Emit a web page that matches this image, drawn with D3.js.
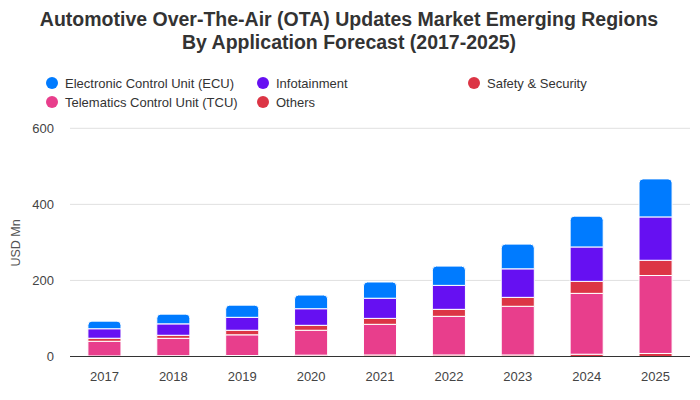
<!DOCTYPE html>
<html><head><meta charset="utf-8">
<script src="https://cdn.jsdelivr.net/npm/d3@7"></script>
<style>
html,body{margin:0;padding:0;background:#fff;}
svg{display:block;font-family:"Liberation Sans",Arial,sans-serif;}
</style></head>
<body><svg id="chart" width="700" height="400"></svg>
<script>
const years = ["2017","2018","2019","2020","2021","2022","2023","2024","2025"];
const others   = [1.5, 2, 2.5, 3.5, 4, 4, 4, 6, 8];
const tcu      = [38.5, 45.8, 54.5, 65.5, 80.6, 101.6, 128, 160, 205];
const safety   = [8, 8, 12, 13, 15.6, 18.4, 23.5, 31.5, 40];
const infotain = [25, 30, 34, 43.6, 53, 63, 75, 90.5, 114];
const ecu      = [20, 25.6, 32, 36, 42.7, 50.7, 65, 81, 100];
const yTicks = [0, 200, 400, 600];

const seriesNames = ["Others","Telematics Control Unit (TCU)","Safety & Security","Infotainment","Electronic Control Unit (ECU)"];
const seriesData = [others, tcu, safety, infotain, ecu];
const colors = ["#dc3545","#e83e8c","#dc3545","#6610f2","#007bff"];

const svg = d3.select("#chart");
const margin = {left:70, right:10, top:130, bottom:44};
const W = 700, H = 400;
const x = d3.scaleBand().domain(years).range([margin.left, W - margin.right]).paddingInner(0.52).paddingOuter(0.26);
const y = d3.scaleLinear().domain([0, 600]).range([356.5, 128.3]);

// title
const title = svg.append("text").attr("text-anchor","middle").attr("font-size",19.5).attr("font-weight","bold").attr("fill","#333");
title.append("tspan").attr("x",349).attr("y",26).text("Automotive Over-The-Air (OTA) Updates Market Emerging Regions");
title.append("tspan").attr("x",349).attr("y",49).text("By Application Forecast (2017-2025)");

// legend
const legendItems = [
  {name:"Electronic Control Unit (ECU)", color:"#007bff", cx:52, cy:83},
  {name:"Infotainment", color:"#6610f2", cx:263, cy:83},
  {name:"Safety & Security", color:"#dc3545", cx:474, cy:83},
  {name:"Telematics Control Unit (TCU)", color:"#e83e8c", cx:52, cy:102},
  {name:"Others", color:"#dc3545", cx:263, cy:102}
];
const lg = svg.append("g").selectAll("g").data(legendItems).join("g");
lg.append("circle").attr("cx",d=>d.cx).attr("cy",d=>d.cy).attr("r",6).attr("fill",d=>d.color);
lg.append("text").attr("x",d=>d.cx+13).attr("y",d=>d.cy+4.5).attr("font-size",13).attr("fill","#333").text(d=>d.name);

// gridlines
const grid = svg.append("g");
grid.selectAll("line").data(yTicks.filter(t=>t>0)).join("line")
  .attr("x1",margin.left).attr("x2",W-margin.right)
  .attr("y1",d=>y(d)).attr("y2",d=>y(d)).attr("stroke","#e0e0e0").attr("stroke-width",1);

// y axis
const yAxis = svg.append("g").attr("transform",`translate(${margin.left},0)`)
  .call(d3.axisLeft(y).tickValues(yTicks).tickSize(0).tickPadding(16));
yAxis.select(".domain").remove();
yAxis.selectAll("text").attr("font-size",13).attr("fill","#444").attr("font-family","Liberation Sans, Arial, sans-serif");

svg.append("text").attr("transform","translate(20,243) rotate(-90)").attr("text-anchor","middle")
  .attr("font-size",12.5).attr("fill","#555").text("USD Mn");

// stacked bars
const table = years.map((yr,i)=>{ const o={year:yr}; seriesNames.forEach((s,k)=>o[s]=seriesData[k][i]); return o; });
const stack = d3.stack().keys(seriesNames)(table);
const r = 4;
stack.forEach((layer,k)=>{
  const isTop = k === stack.length-1;
  svg.append("g").selectAll("path").data(layer).join("path")
    .attr("fill",colors[k]).attr("stroke","#fff").attr("stroke-width",1)
    .attr("d",d=>{
      const x0 = x(d.data.year), w = x.bandwidth();
      const yt = y(d[1]), yb = y(d[0]);
      if(isTop){
        return `M${x0},${yb}V${yt+r}Q${x0},${yt} ${x0+r},${yt}H${x0+w-r}Q${x0+w},${yt} ${x0+w},${yt+r}V${yb}Z`;
      }
      return `M${x0},${yb}V${yt}H${x0+w}V${yb}Z`;
    });
});

// x axis
const xAxis = svg.append("g").attr("transform",`translate(0,${y(0)})`)
  .call(d3.axisBottom(x).tickSize(0).tickPadding(15));
xAxis.select(".domain").attr("stroke","#333").attr("stroke-width",1.2).attr("d",`M${margin.left},0H${W-margin.right}`);
xAxis.selectAll("text").attr("font-size",13).attr("fill","#444").attr("font-family","Liberation Sans, Arial, sans-serif");
</script></body></html>
